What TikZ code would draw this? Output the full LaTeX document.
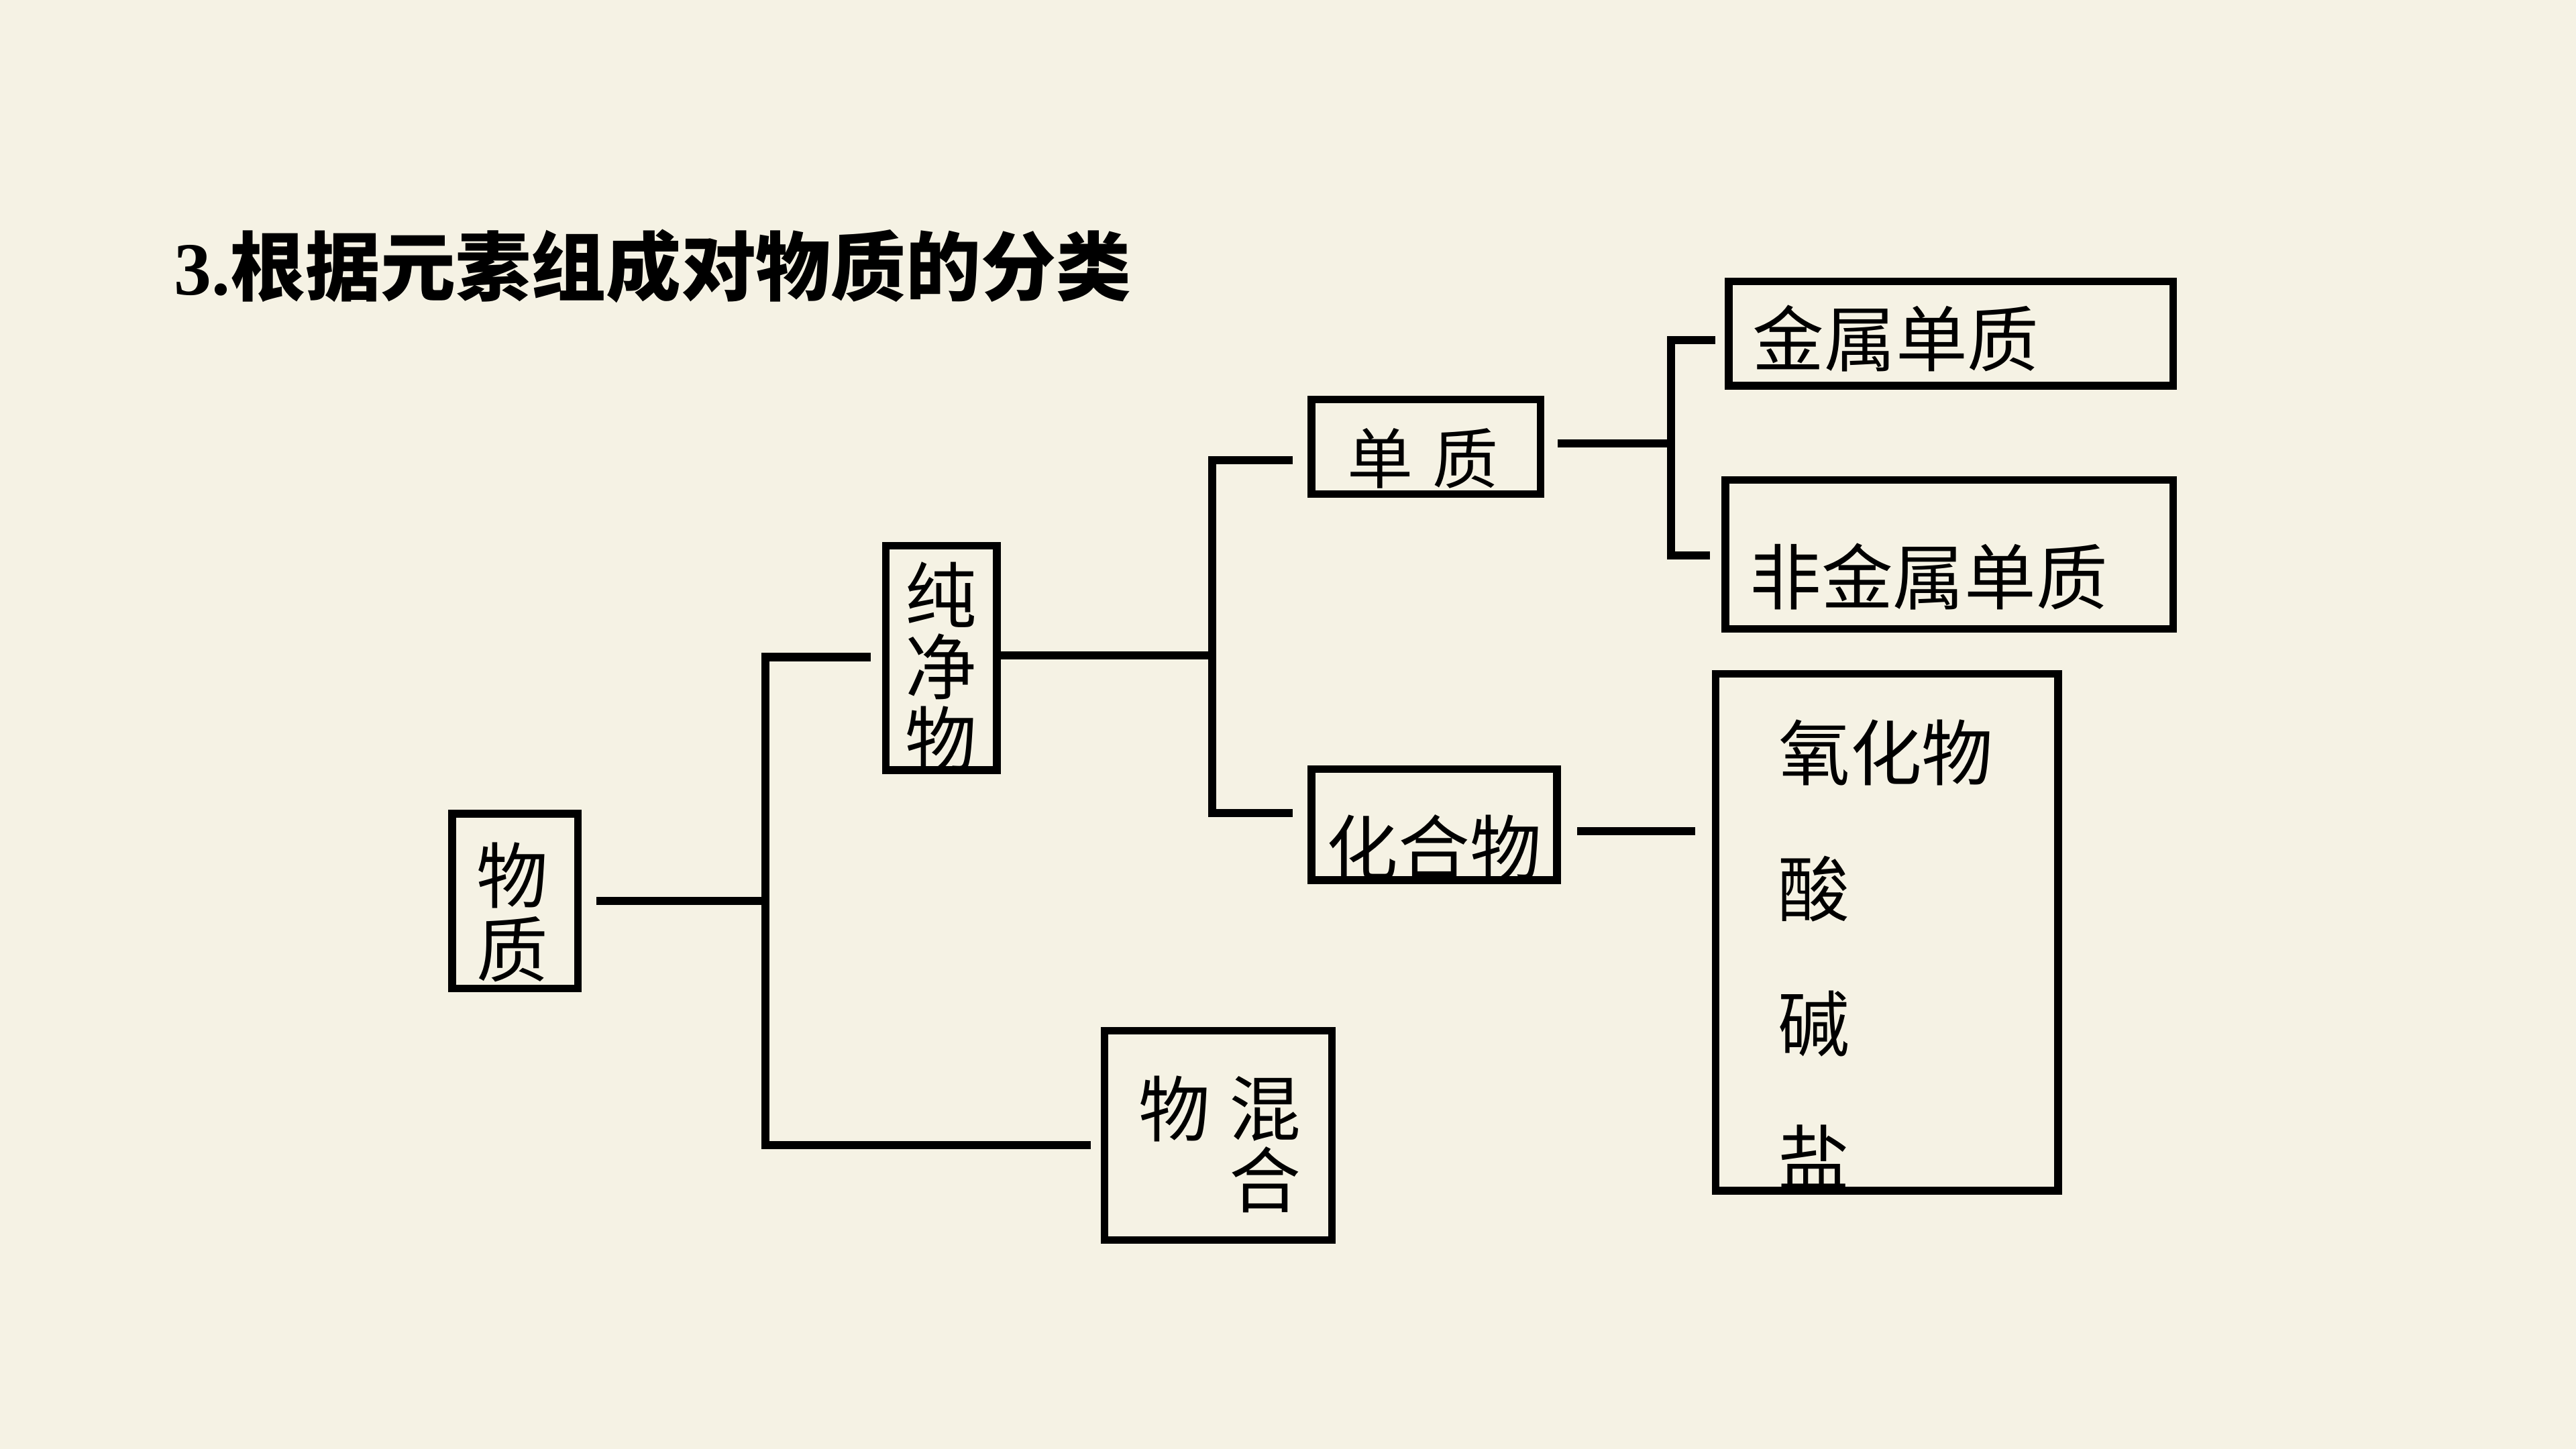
\documentclass[tikz,border=0pt]{standalone}
\usepackage{fontspec}
\setmainfont{Liberation Serif}
\newfontfamily\cjk{Noto Sans CJK SC}
\usetikzlibrary{calc}
\definecolor{bgc}{RGB}{245,242,228}
\tikzset{
  boxnode/.style={draw=black,line width=4.6mm,inner sep=0pt,rectangle},
  conn/.style={draw=black,line width=5mm,line join=miter},
  txt/.style={inner sep=0pt,font=\cjk\fontsize{124}{130}\selectfont},
  txts/.style={inner sep=0pt,font=\cjk\fontsize{114}{120}\selectfont}
}
\begin{document}
\begin{tikzpicture}[x=1mm,y=-1mm]
\fill[bgc] (0,0) rectangle (1568,882);
\useasboundingbox (0,0) rectangle (1568,882);
% title
\node[anchor=west,inner sep=0pt] (title) at (106,162)
  {\fontsize{130}{134}\selectfont\bfseries 3.{\cjk\bfseries 根据元素组成对物质的分类}};
% boxes (outer extents minus line width)
\node[boxnode,minimum width=76.5mm,minimum height=106.5mm] (wz) at (313.5,548.5) {};
\node[boxnode,minimum width=67.5mm,minimum height=136.5mm] (cjw) at (573,400.5) {};
\node[boxnode,minimum width=139.5mm,minimum height=57.5mm] (dz) at (868,272) {};
\node[boxnode,minimum width=149.5mm,minimum height=67.5mm] (hhw) at (873,502) {};
\node[boxnode,minimum width=138.5mm,minimum height=127.5mm] (hunhe) at (741.5,691) {};
\node[boxnode,minimum width=270.5mm,minimum height=63.5mm] (jsdz) at (1187.5,203) {};
\node[boxnode,minimum width=272.5mm,minimum height=90.5mm] (fjsdz) at (1186.5,337.5) {};
\node[boxnode,minimum width=208.5mm,minimum height=314.5mm] (big) at (1148.5,567.5) {};
% texts
\node[txt] (t1) at (312,533) {物};
\node[txt] (t2) at (312,578) {质};
\node[txt] (t3) at (573,362) {纯};
\node[txt] (t4) at (573,406) {净};
\node[txt] (t5) at (573,450) {物};
\node[txts] (t6) at (840,279) {单};
\node[txts] (t7) at (892,279) {质};
\node[txt] (t8) at (873,516) {化合物};
\node[txt] (t9) at (715,675) {物};
\node[txt] (t10) at (770,675) {混};
\node[txt] (t11) at (770,718) {合};
\node[txt] (t12) at (1154,206) {金属单质};
\node[txt] (t13) at (1174,351) {非金属单质};
\node[txt] (t14) at (1148,458) {氧化物};
\node[txt] (t15) at (1104,541) {酸};
\node[txt] (t16) at (1104,623) {碱};
\node[txt] (t17) at (1104,704) {盐};
% junction coordinates
\coordinate (j1) at (466,548.5);
\coordinate (a1) at (530,400);
\coordinate (a2) at (664,697);
\coordinate (j2) at (738,399);
\coordinate (b1) at (787,280);
\coordinate (b2) at (787,495);
\coordinate (j3) at (1017,270);
\coordinate (c1) at (1044,207);
\coordinate (c2) at (1041,338);
\coordinate (d1) at (1032,506);
% connectors
\draw[conn] ($(wz.east)+(9,0)$) -- (j1);
\draw[conn] (a1) -| (j1) |- (a2);
\draw[conn] (cjw.east |- j2) -- (j2);
\draw[conn] (b1) -| (j2) |- (b2);
\draw[conn] ($(dz.east)+(8,-2)$) -- (j3);
\draw[conn] (c1) -| (j3) |- (c2);
\draw[conn] ($(hhw.east |- d1)+(10,0)$) -- (d1);
\end{tikzpicture}
\end{document}
